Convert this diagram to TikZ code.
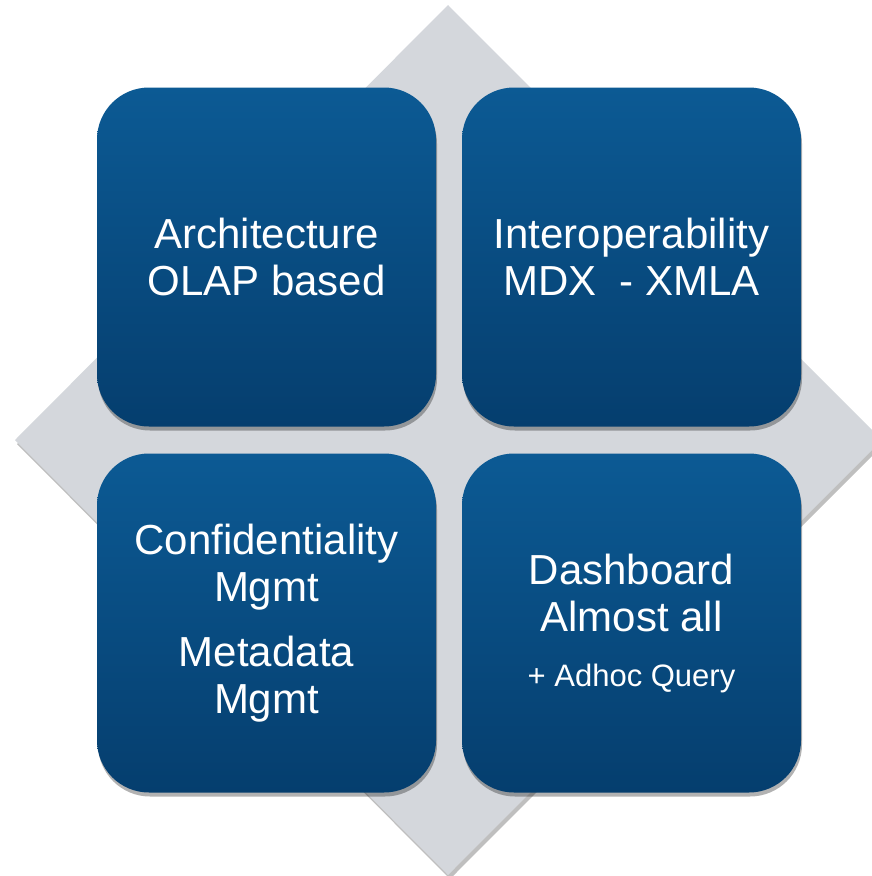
\documentclass[tikz,border=0pt]{standalone}
\usepackage{fontspec}
\setmainfont{Liberation Sans}
\usetikzlibrary{shadows}

\definecolor{tiletop}{RGB}{12,90,148}
\definecolor{tilebottom}{RGB}{5,62,110}
\definecolor{backgray}{RGB}{212,215,220}

\tikzset{
  tile/.style={minimum width=339pt, minimum height=339pt, rounded corners=52pt,
    top color=tiletop, bottom color=tilebottom, text=white, align=center,
    font=\fontsize{42}{47}\selectfont, inner sep=0pt,
    drop shadow={shadow xshift=1pt, shadow yshift=-4pt, opacity=0.3, fill=black}}
}

\begin{document}
\begin{tikzpicture}[x=1pt,y=-1pt]
        \useasboundingbox (0,0) rectangle (872,876);
        % grey diamond behind the tiles
        \fill[backgray, drop shadow={shadow xshift=2pt, shadow yshift=-4pt, opacity=0.25, fill=black}]
            (448,5) -- (882,440) -- (448,875) -- (15,440) -- cycle;
        % the four tiles
        \node[tile] (arch) at (266.5,257) {Architecture\\OLAP based};
        \node[tile] (inter) at (631.5,257) {Interoperability\\MDX\ \ - XMLA};
        \node[tile] (conf) at (266.5,623) {Confidentiality\\Mgmt\\[18pt]Metadata\\Mgmt};
        \node[tile] (dash) at (631.5,623) {Dashboard\\Almost all\\[8pt]{\fontsize{31}{34}\selectfont + Adhoc Query}};
\end{tikzpicture}
\end{document}
